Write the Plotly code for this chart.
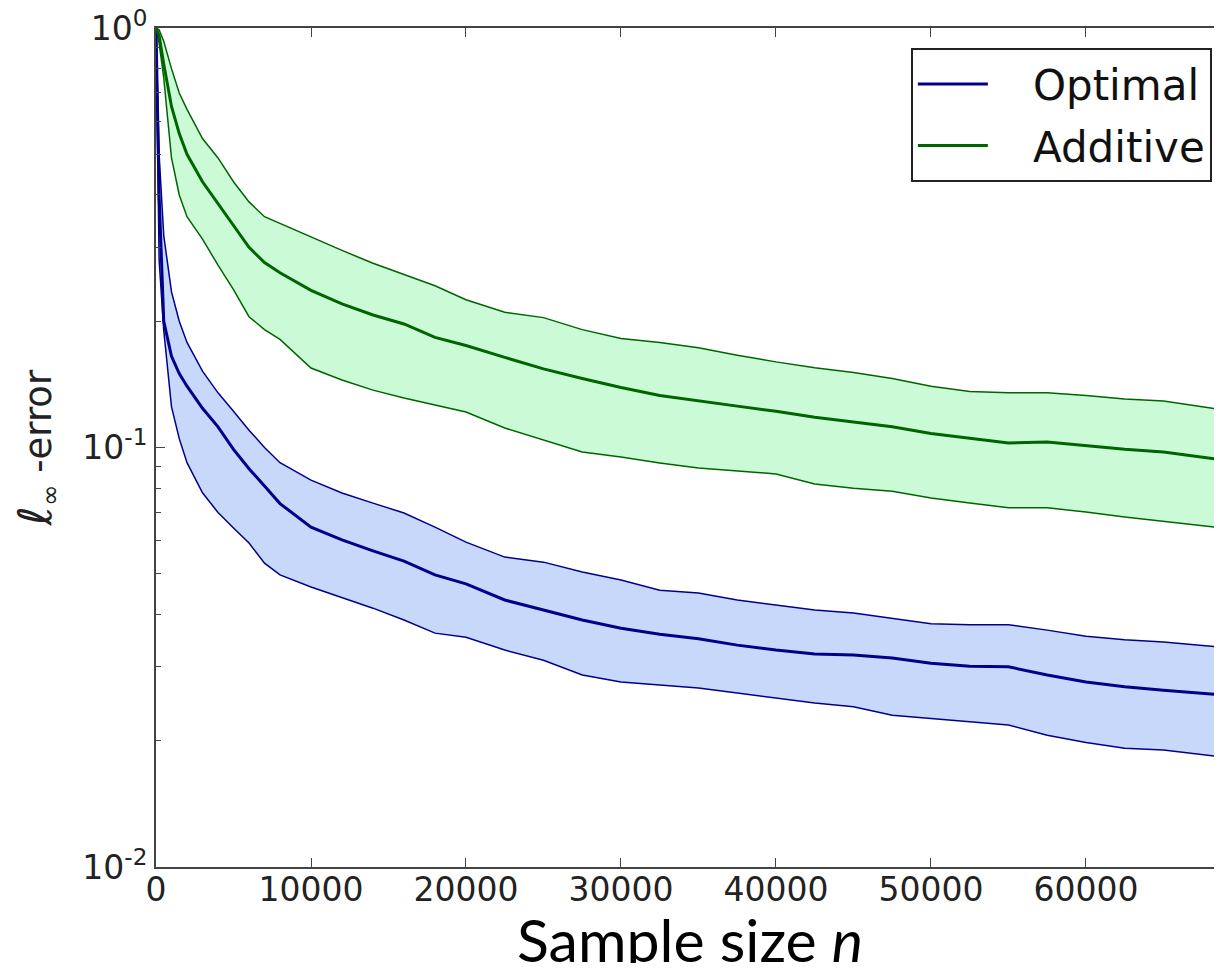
import plotly.graph_objects as go

# sample sizes (x) shared by every series
n_samples = [0, 200, 500, 1000, 1500, 2000, 3000, 4000, 5000, 6000, 7000, 8000,
             10000, 12000, 14000, 16000, 18000, 20000, 22500, 25000, 27500, 30000,
             32500, 35000, 37500, 40000, 42500, 45000, 47500, 50000, 52500, 55000,
             57500, 60000, 62500, 65000, 68800]

optimal_mean = [1.0, 0.40, 0.20, 0.165, 0.15, 0.14, 0.124, 0.112, 0.099, 0.089, 0.081, 0.0735,
                0.0646, 0.0602, 0.0567, 0.0536, 0.0497, 0.0473, 0.0433, 0.0410, 0.0388, 0.0371,
                0.0359, 0.0350, 0.0338, 0.0329, 0.0322, 0.0320, 0.0315, 0.0306, 0.0301, 0.0300,
                0.0287, 0.0276, 0.0269, 0.0264, 0.0257]
optimal_upper = [1.0, 0.50, 0.32, 0.235, 0.20, 0.178, 0.152, 0.135, 0.122, 0.11, 0.10, 0.092,
                 0.0836, 0.0779, 0.0737, 0.0698, 0.0646, 0.0595, 0.0548, 0.0533, 0.0505, 0.0483,
                 0.0457, 0.0450, 0.0433, 0.0421, 0.0410, 0.0403, 0.0392, 0.0380, 0.0378, 0.0378,
                 0.0367, 0.0355, 0.0348, 0.0344, 0.0334]
optimal_lower = [1.0, 0.28, 0.19, 0.125, 0.105, 0.092, 0.078, 0.070, 0.0643, 0.0592, 0.0530, 0.0497,
                 0.0465, 0.0438, 0.0414, 0.0388, 0.0361, 0.0353, 0.0329, 0.0311, 0.0287, 0.0276,
                 0.0272, 0.0267, 0.0260, 0.0253, 0.0246, 0.0241, 0.0230, 0.0226, 0.0222, 0.0218,
                 0.0206, 0.0198, 0.0192, 0.0190, 0.0183]

additive_mean = [1.0, 0.96, 0.82, 0.65, 0.56, 0.50, 0.43, 0.382, 0.338, 0.300, 0.276, 0.261,
                 0.237, 0.220, 0.207, 0.197, 0.183, 0.175, 0.164, 0.154, 0.146, 0.139,
                 0.133, 0.129, 0.1255, 0.122, 0.118, 0.115, 0.112, 0.108, 0.105, 0.1025,
                 0.103, 0.101, 0.099, 0.0976, 0.0934]
additive_upper = [1.0, 0.99, 0.93, 0.80, 0.70, 0.64, 0.545, 0.49, 0.43, 0.385, 0.355, 0.342,
                  0.318, 0.295, 0.275, 0.259, 0.243, 0.225, 0.210, 0.204, 0.191, 0.182,
                  0.178, 0.173, 0.166, 0.160, 0.155, 0.151, 0.146, 0.140, 0.136, 0.135,
                  0.135, 0.133, 0.1305, 0.129, 0.123]
additive_lower = [1.0, 0.92, 0.76, 0.49, 0.40, 0.355, 0.314, 0.272, 0.238, 0.205, 0.191, 0.181,
                  0.1547, 0.1449, 0.137, 0.1312, 0.1263, 0.1215, 0.1113, 0.104, 0.0976, 0.0949,
                  0.0919, 0.0894, 0.0879, 0.0865, 0.0818, 0.080, 0.0787, 0.0758, 0.0737, 0.0718,
                  0.0718, 0.0702, 0.0683, 0.0668, 0.0643]

series = [
    ("Optimal", optimal_mean, optimal_lower, optimal_upper, "#00008b", "rgba(170,195,248,0.65)"),
    ("Additive", additive_mean, additive_lower, additive_upper, "#006400", "rgba(160,248,180,0.55)"),
]

fig = go.Figure()

for name, mean, lower, upper, color, fill in series:
    fig.add_trace(go.Scatter(x=n_samples, y=lower, mode="lines",
                             line=dict(color=color, width=1.5),
                             showlegend=False, hoverinfo="skip"))
    fig.add_trace(go.Scatter(x=n_samples, y=upper, mode="lines", fill="tonexty",
                             fillcolor=fill, line=dict(color=color, width=1.5),
                             showlegend=False, hoverinfo="skip"))

pad = "\u00a0" * 3
for name, mean, lower, upper, color, fill in series:
    fig.add_trace(go.Scatter(x=n_samples, y=mean, mode="lines", name=pad + name,
                             legendgroup=name, line=dict(color=color, width=3)))

# page body keeps an 8px margin; size the div so nothing scrolls
fig.update_layout(
    width=1206, height=955,
    margin=dict(l=148, r=0, t=20, b=96),
    paper_bgcolor="white", plot_bgcolor="white",
    font=dict(family="DejaVu Sans", size=33, color="#222"),
    legend=dict(x=0.998, y=0.976, xanchor="right", yanchor="top",
                bordercolor="#222", borderwidth=2, bgcolor="white",
                font=dict(size=42, color="#111"), tracegroupgap=4, itemwidth=70),
)

# x title as an annotation so it can sit lower than the margin allows
fig.add_annotation(text="Sample size <i>n</i>", xref="paper", yref="paper",
                   x=0.505, y=0, yanchor="middle", yshift=-72, showarrow=False,
                   font=dict(family="Lato", size=59, color="#000"))

fig.update_xaxes(
    range=[0, 68260], tickvals=[0, 10000, 20000, 30000, 40000, 50000, 60000],
    tickformat="d", ticklabelstandoff=-8, automargin=False, ticklabeloverflow="allow",
    ticks="inside", ticklen=9, tickcolor="#444", mirror="ticks",
    showline=True, linecolor="#444", linewidth=2, showgrid=False, zeroline=False,
)

fig.update_yaxes(
    type="log", range=[-2, 0], automargin=False, ticklabeloverflow="allow",
    tickvals=[0.01, 0.1, 1], ticktext=["10<sup>-2</sup>", "10<sup>-1</sup>", "10<sup>0</sup>"],
    ticks="inside", ticklen=9, tickcolor="#444",
    minor=dict(ticks="inside", ticklen=5, tickcolor="#444",
               tickvals=[0.02, 0.03, 0.04, 0.05, 0.06, 0.07, 0.08, 0.09,
                         0.2, 0.3, 0.4, 0.5, 0.6, 0.7, 0.8, 0.9]),
    showline=True, linecolor="#444", linewidth=2, showgrid=False, zeroline=False,
    title=dict(text="<span style='font-size:46px'><i>ℓ</i></span><sub>∞</sub> -error"
                    + "\u00a0" * 4, standoff=24,
               font=dict(family="DejaVu Sans", size=37, color="#222")),
)

fig.write_html("out.html")
